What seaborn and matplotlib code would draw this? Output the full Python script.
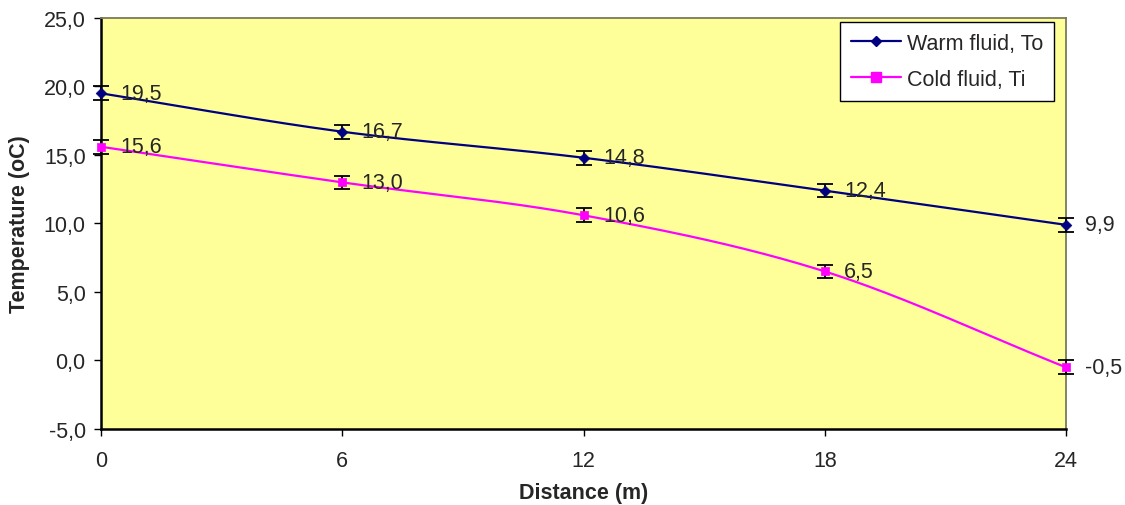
import numpy as np
import pandas as pd
import matplotlib
matplotlib.use("Agg")
import matplotlib.pyplot as plt
from matplotlib.lines import Line2D
from matplotlib.ticker import FuncFormatter
import seaborn as sns

distance = [0, 6, 12, 18, 24]
warm_to = [19.5, 16.7, 14.8, 12.4, 9.9]
cold_ti = [15.6, 13.0, 10.6, 6.5, -0.5]
warm_err = [0.5, 0.5, 0.5, 0.5, 0.5]
cold_err = [0.5, 0.5, 0.5, 0.5, 0.5]
series_names = ["Warm fluid, To", "Cold fluid, Ti"]


def smooth_curve(x, y, n=40):
    """Catmull-Rom style smoothing through the given points (spreadsheet 'smoothed line')."""
    x = np.asarray(x, float)
    y = np.asarray(y, float)
    px = np.concatenate([[2 * x[0] - x[1]], x, [2 * x[-1] - x[-2]]])
    py = np.concatenate([[2 * y[0] - y[1]], y, [2 * y[-1] - y[-2]]])
    xs, ys = [], []
    t = np.linspace(0, 1, n)
    for i in range(1, len(px) - 2):
        p0, p1, p2, p3 = (np.array([px[j], py[j]]) for j in range(i - 1, i + 3))
        c1 = p1 + (p2 - p0) / 6
        c2 = p2 - (p3 - p1) / 6
        b = ((1 - t) ** 3)[:, None] * p1 + (3 * (1 - t) ** 2 * t)[:, None] * c1 \
            + (3 * (1 - t) * t ** 2)[:, None] * c2 + (t ** 3)[:, None] * p2
        xs.extend(b[:, 0])
        ys.extend(b[:, 1])
    return np.array(xs), np.array(ys)


sns.set_style("white")
plt.rcParams["font.family"] = ["Liberation Sans", "DejaVu Sans"]

fig = plt.figure(figsize=(11.25, 5.06), dpi=100)
ax = fig.add_axes([0.0898, 0.1502, 0.8578, 0.8123])
ax.set_facecolor("#FFFF99")

warm_color = "#000080"
cold_color = "#FF00FF"
fs = 15.5

wx, wy = smooth_curve(distance, warm_to)
cx, cy = smooth_curve(distance, cold_ti)
sns.lineplot(x=wx, y=wy, ax=ax, color=warm_color, linewidth=1.6, sort=False, zorder=3)
sns.lineplot(x=cx, y=cy, ax=ax, color=cold_color, linewidth=1.6, sort=False, zorder=3)

ax.errorbar(distance, warm_to, yerr=warm_err, fmt="none", ecolor="black",
            elinewidth=1.3, capsize=5.5, capthick=1.3, zorder=4, clip_on=False)
ax.errorbar(distance, cold_ti, yerr=cold_err, fmt="none", ecolor="black",
            elinewidth=1.3, capsize=5.5, capthick=1.3, zorder=4, clip_on=False)

sns.scatterplot(x=distance, y=warm_to, ax=ax, marker="D", s=30, color=warm_color,
                edgecolor=warm_color, zorder=5, clip_on=False)
sns.scatterplot(x=distance, y=cold_ti, ax=ax, marker="s", s=38, color=cold_color,
                edgecolor=cold_color, zorder=5, clip_on=False)

for xv, yv in zip(distance, warm_to):
    ax.annotate(f"{yv:.1f}".replace(".", ","), (xv, yv), xytext=(14, 0),
                textcoords="offset points", va="center", ha="left", fontsize=fs,
                annotation_clip=False, zorder=6)
for xv, yv in zip(distance, cold_ti):
    ax.annotate(f"{yv:.1f}".replace(".", ","), (xv, yv), xytext=(14, 0),
                textcoords="offset points", va="center", ha="left", fontsize=fs,
                annotation_clip=False, zorder=6)

ax.set_xlim(0, 24)
ax.set_ylim(-5, 25)
ax.set_xticks(distance)
ax.set_yticks(np.arange(-5, 26, 5))
ax.yaxis.set_major_formatter(FuncFormatter(lambda v, p: f"{v:.1f}".replace(".", ",")))
ax.tick_params(axis="both", direction="out", length=5, width=1, labelsize=fs,
               color="black", bottom=True, left=True)
ax.tick_params(axis="x", pad=10)
ax.tick_params(axis="y", pad=6)

for side in ["left", "bottom"]:
    ax.spines[side].set_color("black")
    ax.spines[side].set_linewidth(1.8)
for side in ["top", "right"]:
    ax.spines[side].set_color("#7a7a5a")
    ax.spines[side].set_linewidth(1.3)

ax.set_xlabel("Distance (m)", fontsize=fs, fontweight="bold", labelpad=8)
ax.set_ylabel("Temperature (oC)", fontsize=fs, fontweight="bold", labelpad=10)

handles = [
    Line2D([0], [0], color=warm_color, lw=1.6, marker="D", markersize=5.5),
    Line2D([0], [0], color=cold_color, lw=1.6, marker="s", markersize=6.5),
]
leg = ax.legend(handles, series_names, loc="upper right", bbox_to_anchor=(0.9876, 0.990),
                fontsize=fs, frameon=True, fancybox=False, framealpha=1,
                edgecolor="black", handlelength=2.3, borderpad=0.5, labelspacing=0.7,
                handletextpad=0.3, borderaxespad=0)
leg.get_frame().set_linewidth(1.0)

fig.savefig("out.png", dpi=100)
